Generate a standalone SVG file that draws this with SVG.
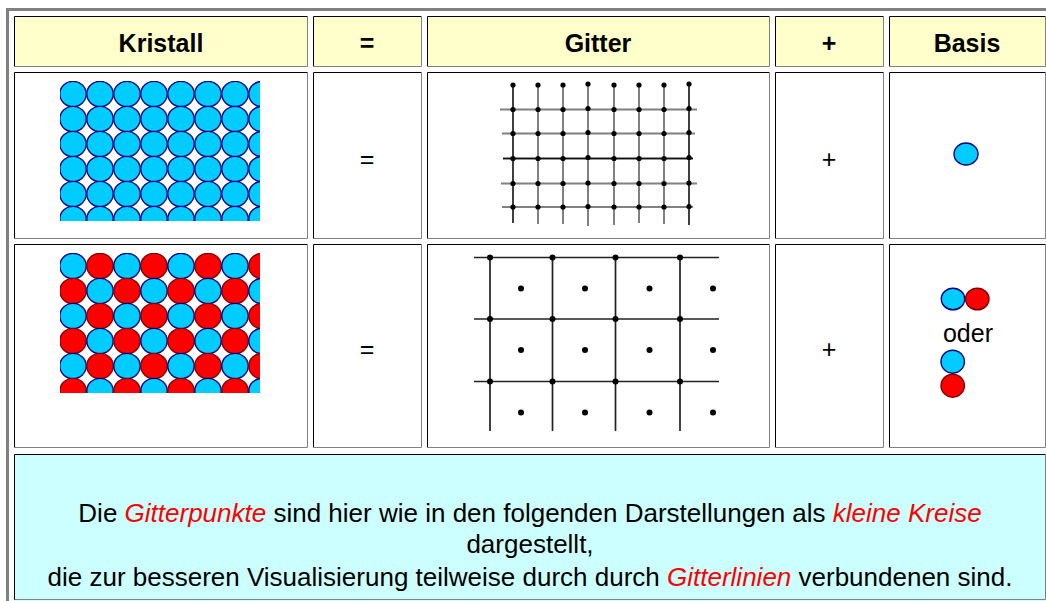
<svg xmlns="http://www.w3.org/2000/svg" xmlns:xlink="http://www.w3.org/1999/xlink" width="1046" height="601" viewBox="0 0 1046 601">
<style>
text{font-family:"Liberation Sans",Arial,sans-serif;fill:#000}
.h{font-size:25px;font-weight:bold;text-anchor:middle}
.b{font-size:25px;text-anchor:middle}
.t{font-size:26px;text-anchor:middle}
.em{fill:#ff0000;font-style:italic}
.hd{fill:#ffffcc}
.cy{fill:#ccffff}
.dk{fill:none;stroke:#000;stroke-width:1}
.lt{fill:none;stroke:#808080;stroke-width:1}
.cb{fill:#00ccff;stroke:#000080;stroke-width:1.4}
.cr{fill:#ff0000;stroke:#800000;stroke-width:1.4}
.g1{stroke:#808080;stroke-width:2;fill:none}
.g1k{stroke:#111;stroke-width:1.6;fill:none}
.g2{stroke:#222;stroke-width:1.7;fill:none}
.dot{fill:#000}
</style>
<defs>
<ellipse id="B" rx="13.2" ry="12.6" class="cb"/>
<ellipse id="R" rx="13.2" ry="12.6" class="cr"/>
<clipPath id="c1"><rect x="60" y="81" width="200" height="140"/></clipPath>
<clipPath id="c2"><rect x="60" y="253" width="200" height="140"/></clipPath>
</defs>
<rect width="1046" height="601" fill="#fff"/>
<!-- outer table border -->
<rect x="6" y="8" width="1046" height="3" fill="#808080"/>
<rect x="6" y="8" width="3" height="600" fill="#808080"/>

<!-- header row -->
<g id="h-kristall">
<rect x="14" y="16" width="294" height="51" class="hd"/>
<path d="M14.5 66.5V16.5H307.5" class="dk"/><path d="M307.5 16.5V66.5H14.5" class="lt"/>
<text x="161" y="52" class="h">Kristall</text>
</g>
<g id="h-eq">
<rect x="313" y="16" width="109" height="51" class="hd"/>
<path d="M313.5 66.5V16.5H421.5" class="dk"/><path d="M421.5 16.5V66.5H313.5" class="lt"/>
<text x="367" y="52" class="h">=</text>
</g>
<g id="h-gitter">
<rect x="427" y="16" width="343" height="51" class="hd"/>
<path d="M427.5 66.5V16.5H769.5" class="dk"/><path d="M769.5 16.5V66.5H427.5" class="lt"/>
<text x="598" y="52" class="h">Gitter</text>
</g>
<g id="h-plus">
<rect x="775" y="16" width="109" height="51" class="hd"/>
<path d="M775.5 66.5V16.5H883.5" class="dk"/><path d="M883.5 16.5V66.5H775.5" class="lt"/>
<text x="829" y="52" class="h">+</text>
</g>
<g id="h-basis">
<rect x="889" y="16" width="157" height="51" class="hd"/>
<path d="M889.5 66.5V16.5H1045.5" class="dk"/><path d="M1045.5 16.5V66.5H889.5" class="lt"/>
<text x="967" y="52" class="h">Basis</text>
</g>

<!-- row 2 -->
<g id="r1-kristall">
<path d="M14.5 238.5V72.5H307.5" class="dk"/><path d="M307.5 72.5V238.5H14.5" class="lt"/>
<g clip-path="url(#c1)">
<use xlink:href="#B" x="73" y="94"/><use xlink:href="#B" x="100" y="94"/><use xlink:href="#B" x="127" y="94"/><use xlink:href="#B" x="154" y="94"/><use xlink:href="#B" x="181" y="94"/><use xlink:href="#B" x="208" y="94"/><use xlink:href="#B" x="235" y="94"/><use xlink:href="#B" x="262" y="94"/>
<use xlink:href="#B" x="73" y="119"/><use xlink:href="#B" x="100" y="119"/><use xlink:href="#B" x="127" y="119"/><use xlink:href="#B" x="154" y="119"/><use xlink:href="#B" x="181" y="119"/><use xlink:href="#B" x="208" y="119"/><use xlink:href="#B" x="235" y="119"/><use xlink:href="#B" x="262" y="119"/>
<use xlink:href="#B" x="73" y="144"/><use xlink:href="#B" x="100" y="144"/><use xlink:href="#B" x="127" y="144"/><use xlink:href="#B" x="154" y="144"/><use xlink:href="#B" x="181" y="144"/><use xlink:href="#B" x="208" y="144"/><use xlink:href="#B" x="235" y="144"/><use xlink:href="#B" x="262" y="144"/>
<use xlink:href="#B" x="73" y="169"/><use xlink:href="#B" x="100" y="169"/><use xlink:href="#B" x="127" y="169"/><use xlink:href="#B" x="154" y="169"/><use xlink:href="#B" x="181" y="169"/><use xlink:href="#B" x="208" y="169"/><use xlink:href="#B" x="235" y="169"/><use xlink:href="#B" x="262" y="169"/>
<use xlink:href="#B" x="73" y="194"/><use xlink:href="#B" x="100" y="194"/><use xlink:href="#B" x="127" y="194"/><use xlink:href="#B" x="154" y="194"/><use xlink:href="#B" x="181" y="194"/><use xlink:href="#B" x="208" y="194"/><use xlink:href="#B" x="235" y="194"/><use xlink:href="#B" x="262" y="194"/>
<use xlink:href="#B" x="73" y="219"/><use xlink:href="#B" x="100" y="219"/><use xlink:href="#B" x="127" y="219"/><use xlink:href="#B" x="154" y="219"/><use xlink:href="#B" x="181" y="219"/><use xlink:href="#B" x="208" y="219"/><use xlink:href="#B" x="235" y="219"/><use xlink:href="#B" x="262" y="219"/>
</g>
</g>
<g id="r1-eq">
<path d="M313.5 238.5V72.5H421.5" class="dk"/><path d="M421.5 72.5V238.5H313.5" class="lt"/>
<text x="367" y="168" class="b">=</text>
</g>
<g id="r1-gitter">
<path d="M427.5 238.5V72.5H769.5" class="dk"/><path d="M769.5 72.5V238.5H427.5" class="lt"/>
<path d="M500 109.5H697M502 133.5H695M503 158.5H693M501 183.5H697M502 207H693" class="g1"/>
<path d="M538 85V224M563 85V224M588 85V226M614 85V225M639 85V223M664 85V224" class="g1"/>
<path d="M513 85V223M689 85V225M503 158.5H693" class="g1k"/>
<g class="dot">
<circle cx="513" cy="85" r="2.6"/><circle cx="538" cy="85" r="2.6"/><circle cx="563" cy="85" r="2.6"/><circle cx="588" cy="84" r="2.6"/><circle cx="614" cy="85" r="2.6"/><circle cx="639" cy="85" r="2.6"/><circle cx="664" cy="85" r="2.6"/><circle cx="689" cy="84" r="2.6"/>
<circle cx="513" cy="109.5" r="2.6"/><circle cx="538" cy="109.5" r="2.6"/><circle cx="563" cy="109.5" r="2.6"/><circle cx="588" cy="108.5" r="2.6"/><circle cx="614" cy="109.5" r="2.6"/><circle cx="639" cy="109.5" r="2.6"/><circle cx="664" cy="109.5" r="2.6"/><circle cx="689" cy="108.5" r="2.6"/>
<circle cx="513" cy="133.5" r="2.6"/><circle cx="538" cy="133.5" r="2.6"/><circle cx="563" cy="133.5" r="2.6"/><circle cx="588" cy="132.5" r="2.6"/><circle cx="614" cy="133.5" r="2.6"/><circle cx="639" cy="133.5" r="2.6"/><circle cx="664" cy="133.5" r="2.6"/><circle cx="689" cy="132.5" r="2.6"/>
<circle cx="513" cy="158.5" r="2.6"/><circle cx="538" cy="158.5" r="2.6"/><circle cx="563" cy="158.5" r="2.6"/><circle cx="588" cy="157.5" r="2.6"/><circle cx="614" cy="158.5" r="2.6"/><circle cx="639" cy="158.5" r="2.6"/><circle cx="664" cy="158.5" r="2.6"/><circle cx="689" cy="157.5" r="2.6"/>
<circle cx="513" cy="183.5" r="2.6"/><circle cx="538" cy="183.5" r="2.6"/><circle cx="563" cy="183.5" r="2.6"/><circle cx="588" cy="183" r="2.6"/><circle cx="614" cy="183.5" r="2.6"/><circle cx="639" cy="183.5" r="2.6"/><circle cx="664" cy="183.5" r="2.6"/><circle cx="689" cy="183" r="2.6"/>
<circle cx="513" cy="207" r="2.6"/><circle cx="538" cy="207" r="2.6"/><circle cx="563" cy="207" r="2.6"/><circle cx="588" cy="206.5" r="2.6"/><circle cx="614" cy="207" r="2.6"/><circle cx="639" cy="207" r="2.6"/><circle cx="664" cy="207" r="2.6"/><circle cx="689" cy="206.5" r="2.6"/>
</g>
</g>
<g id="r1-plus">
<path d="M775.5 238.5V72.5H883.5" class="dk"/><path d="M883.5 72.5V238.5H775.5" class="lt"/>
<text x="829" y="168" class="b">+</text>
</g>
<g id="r1-basis">
<path d="M889.5 238.5V72.5H1045.5" class="dk"/><path d="M1045.5 72.5V238.5H889.5" class="lt"/>
<ellipse cx="966" cy="154" rx="12" ry="11" class="cb"/>
</g>

<!-- row 3 -->
<g id="r2-kristall">
<path d="M14.5 447.5V244.5H307.5" class="dk"/><path d="M307.5 244.5V447.5H14.5" class="lt"/>
<g clip-path="url(#c2)">
<use xlink:href="#B" x="73" y="266"/><use xlink:href="#R" x="100" y="266"/><use xlink:href="#B" x="127" y="266"/><use xlink:href="#R" x="154" y="266"/><use xlink:href="#B" x="181" y="266"/><use xlink:href="#R" x="208" y="266"/><use xlink:href="#B" x="235" y="266"/><use xlink:href="#R" x="262" y="266"/>
<use xlink:href="#R" x="73" y="291"/><use xlink:href="#B" x="100" y="291"/><use xlink:href="#R" x="127" y="291"/><use xlink:href="#B" x="154" y="291"/><use xlink:href="#R" x="181" y="291"/><use xlink:href="#B" x="208" y="291"/><use xlink:href="#R" x="235" y="291"/><use xlink:href="#B" x="262" y="291"/>
<use xlink:href="#B" x="73" y="316"/><use xlink:href="#R" x="100" y="316"/><use xlink:href="#B" x="127" y="316"/><use xlink:href="#R" x="154" y="316"/><use xlink:href="#B" x="181" y="316"/><use xlink:href="#R" x="208" y="316"/><use xlink:href="#B" x="235" y="316"/><use xlink:href="#R" x="262" y="316"/>
<use xlink:href="#R" x="73" y="341"/><use xlink:href="#B" x="100" y="341"/><use xlink:href="#R" x="127" y="341"/><use xlink:href="#B" x="154" y="341"/><use xlink:href="#R" x="181" y="341"/><use xlink:href="#B" x="208" y="341"/><use xlink:href="#R" x="235" y="341"/><use xlink:href="#B" x="262" y="341"/>
<use xlink:href="#B" x="73" y="366"/><use xlink:href="#R" x="100" y="366"/><use xlink:href="#B" x="127" y="366"/><use xlink:href="#R" x="154" y="366"/><use xlink:href="#B" x="181" y="366"/><use xlink:href="#R" x="208" y="366"/><use xlink:href="#B" x="235" y="366"/><use xlink:href="#R" x="262" y="366"/>
<use xlink:href="#R" x="73" y="391"/><use xlink:href="#B" x="100" y="391"/><use xlink:href="#R" x="127" y="391"/><use xlink:href="#B" x="154" y="391"/><use xlink:href="#R" x="181" y="391"/><use xlink:href="#B" x="208" y="391"/><use xlink:href="#R" x="235" y="391"/><use xlink:href="#B" x="262" y="391"/>
</g>
</g>
<g id="r2-eq">
<path d="M313.5 447.5V244.5H421.5" class="dk"/><path d="M421.5 244.5V447.5H313.5" class="lt"/>
<text x="367" y="358" class="b">=</text>
</g>
<g id="r2-gitter">
<path d="M427.5 447.5V244.5H769.5" class="dk"/><path d="M769.5 244.5V447.5H427.5" class="lt"/>
<path d="M474 257.5H719M474 319H719M474 381.5H719M490 257.5V431M552.5 257.5V431M615.5 257.5V431M680 257.5V431" class="g2"/>
<g class="dot">
<circle cx="490" cy="257.5" r="3"/><circle cx="552.5" cy="257.5" r="3"/><circle cx="615.5" cy="257.5" r="3"/><circle cx="680" cy="257.5" r="3"/>
<circle cx="490" cy="319" r="3"/><circle cx="552.5" cy="319" r="3"/><circle cx="615.5" cy="319" r="3"/><circle cx="680" cy="319" r="3"/>
<circle cx="490" cy="381.5" r="3"/><circle cx="552.5" cy="381.5" r="3"/><circle cx="615.5" cy="381.5" r="3"/><circle cx="680" cy="381.5" r="3"/>
<circle cx="521" cy="288.5" r="3"/><circle cx="585" cy="288.5" r="3"/><circle cx="649.5" cy="288.5" r="3"/><circle cx="713" cy="288.5" r="3"/>
<circle cx="521" cy="350" r="3"/><circle cx="585" cy="350" r="3"/><circle cx="649.5" cy="350" r="3"/><circle cx="713" cy="350" r="3"/>
<circle cx="521" cy="412.5" r="3"/><circle cx="585" cy="412.5" r="3"/><circle cx="649.5" cy="412.5" r="3"/><circle cx="713" cy="412.5" r="3"/>
</g>
</g>
<g id="r2-plus">
<path d="M775.5 447.5V244.5H883.5" class="dk"/><path d="M883.5 244.5V447.5H775.5" class="lt"/>
<text x="829" y="358" class="b">+</text>
</g>
<g id="r2-basis">
<path d="M889.5 447.5V244.5H1045.5" class="dk"/><path d="M1045.5 244.5V447.5H889.5" class="lt"/>
<ellipse cx="953" cy="299" rx="11.7" ry="10.8" class="cb"/>
<ellipse cx="977.3" cy="299" rx="11.7" ry="10.8" class="cr"/>
<text x="968" y="342" class="b">oder</text>
<ellipse cx="952.7" cy="361.7" rx="11.7" ry="11.5" class="cb"/>
<ellipse cx="952.7" cy="385.7" rx="11.7" ry="11.5" class="cr"/>
</g>

<!-- row 4 -->
<g id="note">
<rect x="14" y="454" width="1032" height="147" class="cy"/>
<path d="M14.5 600V454.5H1045.5" class="dk"/><path d="M1045.5 454.5V599.5H14.5" class="lt"/>
<text x="530" y="522" class="t">Die <tspan class="em">Gitterpunkte</tspan> sind hier wie in den folgenden Darstellungen als <tspan class="em">kleine Kreise</tspan></text>
<text x="530" y="553" class="t">dargestellt,</text>
<text x="530" y="586" class="t">die zur besseren Visualisierung teilweise durch durch <tspan class="em">Gitterlinien</tspan> verbundenen sind.</text>
</g>
</svg>
